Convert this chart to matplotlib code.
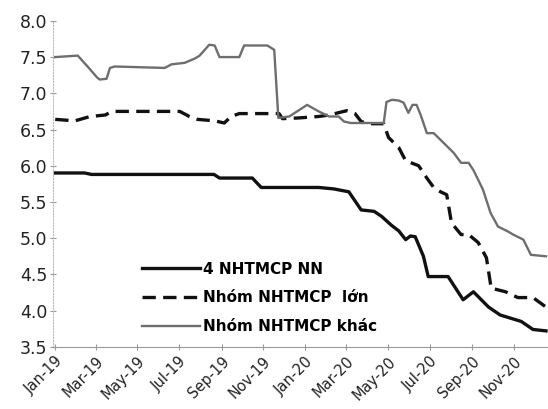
import pandas as pd
import matplotlib.pyplot as plt
import matplotlib.dates as mdates

# Data
nn_dates = ["2019-01-01", "2019-02-13", "2019-02-23", "2019-08-21", "2019-08-29", "2019-10-16",
            "2019-10-29", "2020-01-21", "2020-02-12", "2020-03-05", "2020-03-23", "2020-04-11",
            "2020-04-22", "2020-05-06", "2020-05-17", "2020-05-27", "2020-06-03", "2020-06-10",
            "2020-06-22", "2020-06-29", "2020-07-28", "2020-08-19", "2020-09-03", "2020-09-25",
            "2020-10-12", "2020-11-12", "2020-11-29", "2020-12-18"]
nn_values = [5.90, 5.90, 5.88, 5.88, 5.83, 5.83,
             5.70, 5.70, 5.68, 5.64, 5.39, 5.37,
             5.30, 5.18, 5.10, 4.98, 5.03, 5.02,
             4.75, 4.47, 4.47, 4.15, 4.26, 4.05,
             3.94, 3.85, 3.74, 3.72]

lon_dates = ["2019-01-01", "2019-01-30", "2019-02-21", "2019-03-15", "2019-03-25", "2019-07-02",
             "2019-07-16", "2019-07-28", "2019-08-22", "2019-09-05", "2019-09-15", "2019-09-27",
             "2019-11-24", "2019-11-29", "2019-12-23", "2020-01-21", "2020-02-05", "2020-03-02",
             "2020-03-14", "2020-03-23", "2020-04-03", "2020-04-25", "2020-05-02", "2020-05-17",
             "2020-05-27", "2020-06-15", "2020-06-27", "2020-07-07", "2020-07-17", "2020-07-26",
             "2020-08-02", "2020-08-16", "2020-08-27", "2020-09-10", "2020-09-22", "2020-09-29",
             "2020-10-20", "2020-11-07", "2020-11-29", "2020-12-18"]
lon_values = [6.64, 6.62, 6.68, 6.70, 6.75, 6.75,
              6.68, 6.64, 6.62, 6.59, 6.68, 6.72,
              6.72, 6.65, 6.66, 6.68, 6.70, 6.76,
              6.72, 6.61, 6.58, 6.58, 6.39, 6.25,
              6.07, 6.00, 5.83, 5.70, 5.64, 5.60,
              5.21, 5.05, 5.05, 4.94, 4.73, 4.31,
              4.26, 4.18, 4.18, 4.05]

khac_dates = ["2019-01-01", "2019-02-03", "2019-02-21", "2019-03-03", "2019-03-07", "2019-03-17",
              "2019-03-22", "2019-03-29", "2019-06-10", "2019-06-20", "2019-07-09", "2019-07-24",
              "2019-07-31", "2019-08-14", "2019-08-22", "2019-08-29", "2019-09-27", "2019-10-04",
              "2019-11-07", "2019-11-17", "2019-11-23", "2019-12-09", "2020-01-04", "2020-01-21",
              "2020-02-05", "2020-02-19", "2020-02-27", "2020-03-08", "2020-04-25", "2020-04-29",
              "2020-05-07", "2020-05-17", "2020-05-24", "2020-05-31", "2020-06-06", "2020-06-12",
              "2020-06-18", "2020-06-27", "2020-07-07", "2020-07-21", "2020-08-05", "2020-08-16",
              "2020-08-27", "2020-09-03", "2020-09-17", "2020-09-28", "2020-10-09", "2020-10-24",
              "2020-10-31", "2020-11-15", "2020-11-26", "2020-12-18"]
khac_values = [7.50, 7.52, 7.33, 7.22, 7.19, 7.20,
               7.35, 7.37, 7.35, 7.40, 7.42, 7.48,
               7.52, 7.67, 7.66, 7.50, 7.50, 7.66,
               7.66, 7.60, 6.66, 6.68, 6.84, 6.75,
               6.68, 6.68, 6.61, 6.59, 6.59, 6.88,
               6.91, 6.90, 6.87, 6.73, 6.84, 6.84,
               6.70, 6.45, 6.45, 6.32, 6.18, 6.04,
               6.04, 5.94, 5.67, 5.35, 5.16, 5.09,
               5.05, 4.98, 4.77, 4.75]

labels = ["4 NHTMCP NN", "Nhóm NHTMCP  lớn", "Nhóm NHTMCP khác"]
tick_dates = pd.date_range("2019-01-01", "2020-11-01", freq="2MS")

fig = plt.figure(figsize=(5.48, 4.09), dpi=100)
ax = fig.add_axes([0.097, 0.152, 0.903, 0.797])

ax.plot(pd.to_datetime(nn_dates), nn_values, color="#111111", lw=2.4, label=labels[0])
ax.plot(pd.to_datetime(lon_dates), lon_values, color="#111111", lw=2.4,
        dashes=(4, 2.2), label=labels[1])
ax.plot(pd.to_datetime(khac_dates), khac_values, color="#6e6e6e", lw=1.7, label=labels[2])

ax.set_ylim(3.5, 8.0)
ax.set_xlim(pd.Timestamp("2018-12-29"), pd.Timestamp("2020-12-21"))
ax.set_yticks([3.5, 4.0, 4.5, 5.0, 5.5, 6.0, 6.5, 7.0, 7.5, 8.0])
ax.set_yticklabels(["%.1f" % v for v in ax.get_yticks()], fontsize=12.5, color="#222222")
ax.set_xticks(tick_dates)
ax.set_xticklabels([d.strftime("%b-%y") for d in tick_dates], rotation=45, ha="right",
                   va="top", rotation_mode="anchor", fontsize=10.5, color="#222222")

for s in ["top", "right"]:
    ax.spines[s].set_visible(False)
ax.spines["left"].set_color("#bbbbbb")
ax.spines["left"].set_linestyle(":")
ax.spines["bottom"].set_color("#999999")
ax.tick_params(axis="both", direction="inout", length=4, color="#999999", width=0.8)
ax.tick_params(axis="y", pad=2)
ax.tick_params(axis="x", pad=3)

leg = ax.legend(loc="lower left", bbox_to_anchor=(0.168, 0.02), frameon=False,
                borderaxespad=0, handlelength=3.8, handletextpad=0.15, labelspacing=0.9,
                prop={"size": 11, "weight": "bold"})

fig.savefig("out.png", dpi=100)
